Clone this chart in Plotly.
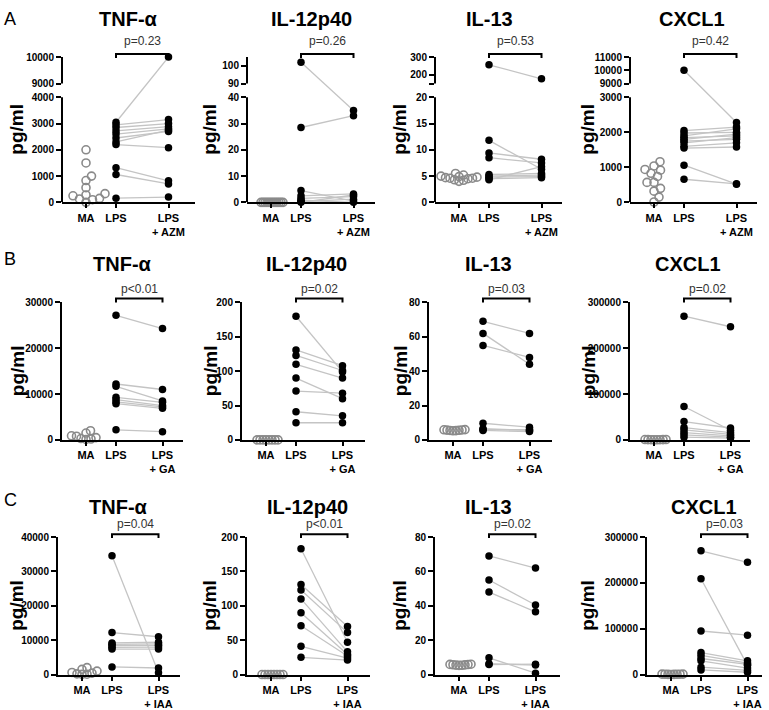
import plotly.graph_objects as go

W, H = 769, 710
FONT = "Arial, Liberation Sans, Helvetica, sans-serif"

# ---------------- data ----------------
row_letters = ["A", "B", "C"]
cytokines = ["TNF-α", "IL-12p40", "IL-13", "CXCL1"]
drug_labels = ["LPS<br>+ AZM", "LPS<br>+ GA", "LPS<br>+ IAA"]
p_values = [["p=0.23", "p=0.26", "p=0.53", "p=0.42"],
            ["p<0.01", "p=0.02", "p=0.03", "p=0.02"],
            ["p=0.04", "p<0.01", "p=0.02", "p=0.03"]]

# Row A (AZM)
a_tnf_ma = [2000, 1500, 1000, 830, 560, 330, 280, 250, 150, 130, 100, 0]
a_tnf_lps = [3050, 2950, 2850, 2720, 2600, 2450, 2300, 2200, 1320, 1060, 160]
a_tnf_drug = [10000, 3150, 3000, 2880, 2800, 2700, 2750, 2080, 820, 700, 200]
a_il12_ma = [0, 0, 0, 0, 0, 0, 0, 0, 0, 0, 0, 0]
a_il12_lps = [102, 28.5, 4.5, 2.5, 1.5, 0.8, 0.3, 0]
a_il12_drug = [35, 33, 0.5, 3.2, 2.2, 0, 1.2, 2.8]
a_il13_ma = [4.6, 4.7, 5.0, 4.8, 4.5, 4.2, 4.0, 4.3, 4.6, 5.2, 5.5, 4.9]
a_il13_lps = [256, 11.8, 9.4, 8.5, 5.3, 5.0, 4.8, 4.5, 4.3]
a_il13_drug = [177, 6.3, 8.2, 7.5, 5.5, 5.2, 4.9, 4.7, 6.8]
a_cxcl1_ma = [1160, 1040, 940, 920, 830, 740, 570, 570, 400, 320, 150, 10]
a_cxcl1_lps = [10000, 2050, 1980, 1900, 1850, 1800, 1750, 1700, 1600, 1550, 1060, 660]
a_cxcl1_drug = [2280, 2150, 2000, 2100, 1900, 1950, 1800, 1850, 1700, 1580, 520, 530]

# Row B (GA)
b_tnf_ma = [2000, 1500, 900, 800, 500, 300, 200, 100]
b_tnf_lps = [27200, 12200, 11700, 9300, 8800, 8300, 7900, 2200]
b_tnf_drug = [24300, 11000, 8500, 8200, 7500, 7200, 6900, 1800]
b_il12_ma = [0, 0, 0, 0, 0, 0, 0, 0]
b_il12_lps = [180, 131, 123, 110, 90, 71, 41, 25]
b_il12_drug = [99, 108, 101, 90, 60, 68, 35, 25]
b_il13_ma = [5.5, 5.8, 6.0, 5.6, 5.3, 5.9, 5.7, 5.4]
b_il13_lps = [69, 62, 55, 9.7, 6.5, 6.0, 5.5]
b_il13_drug = [62, 44, 48, 7.4, 5.5, 6.0, 4.9]
b_cxcl1_ma = [500, 800, 300, 600, 400, 700, 200, 900]
b_cxcl1_lps = [270000, 73000, 40000, 27000, 22000, 16000, 11000, 6000]
b_cxcl1_drug = [247000, 21000, 26000, 16000, 12000, 9000, 6000, 4000]

# Row C (IAA)
c_tnf_ma = [2000, 1500, 1000, 600, 400, 200, 100, 50]
c_tnf_lps = [34600, 12200, 9200, 8800, 8400, 7900, 7400, 2200]
c_tnf_drug = [500, 11000, 9400, 8900, 8500, 8000, 7400, 1900]
c_il12_ma = [0, 0, 0, 0, 0, 0, 0, 0]
c_il12_lps = [183, 131, 123, 110, 90, 71, 41, 25]
c_il12_drug = [47, 70, 61, 33, 29, 27, 24, 21]
c_il13_ma = [5.5, 5.8, 6.0, 5.6, 5.3, 5.9, 5.7, 5.4]
c_il13_lps = [69, 55, 48, 9.7, 6.3, 5.8]
c_il13_drug = [62, 40.5, 36.5, 0.8, 5.5, 6.0]
c_cxcl1_ma = [500, 800, 300, 600, 400, 700, 200, 900]
c_cxcl1_lps = [270000, 209000, 95000, 48000, 42000, 35000, 30000, 16000, 10000]
c_cxcl1_drug = [245000, 20000, 86000, 30000, 25000, 22000, 14000, 9000, 5000]

# y tick values
a_breaks = [  # (low max, upper min, upper max, low ticks, upper ticks, upper tick labels)
    (4000, 9000, 10000, [0, 1000, 2000, 3000, 4000], [9000, 10000], ["9000", "10000"]),
    (40, 90, 105, [0, 10, 20, 30, 40], [90, 100], ["90", "100"]),
    (20, 150, 300, [0, 5, 10, 15, 20], [150, 200, 300], ["", "200", "300"]),
    (3000, 9000, 11000, [0, 1000, 2000, 3000], [9000, 10000, 11000], ["9000", "10000", "11000"]),
]
bc_ticks = [
    [[0, 10000, 20000, 30000], [0, 50, 100, 150, 200], [0, 20, 40, 60, 80], [0, 100000, 200000, 300000]],
    [[0, 10000, 20000, 30000, 40000], [0, 50, 100, 150, 200], [0, 20, 40, 60, 80], [0, 100000, 200000, 300000]],
]

data = [
    [(a_tnf_ma, a_tnf_lps, a_tnf_drug), (a_il12_ma, a_il12_lps, a_il12_drug),
     (a_il13_ma, a_il13_lps, a_il13_drug), (a_cxcl1_ma, a_cxcl1_lps, a_cxcl1_drug)],
    [(b_tnf_ma, b_tnf_lps, b_tnf_drug), (b_il12_ma, b_il12_lps, b_il12_drug),
     (b_il13_ma, b_il13_lps, b_il13_drug), (b_cxcl1_ma, b_cxcl1_lps, b_cxcl1_drug)],
    [(c_tnf_ma, c_tnf_lps, c_tnf_drug), (c_il12_ma, c_il12_lps, c_il12_drug),
     (c_il13_ma, c_il13_lps, c_il13_drug), (c_cxcl1_ma, c_cxcl1_lps, c_cxcl1_drug)],
]

# ---------------- layout geometry (pixels) ----------------
boxes = [  # (x left, x right) per panel
    [(62, 195), (247, 375), (435, 562), (630, 757)],
    [(62, 183), (242, 365), (429, 552), (630, 750)],
    [(58, 180), (247, 370), (435, 560), (647, 762)],
]
row_y = [(52, 200), (302, 442), (541, 681)]  # (top, bottom)
title_y = [13, 263, 510]
letter_y = [13, 258, 503]
p_y = [36, 288, 528]
bracket_y = [49, 298, 538]
ylab_x = [17, 210, 400, 588]
title_x = [
    [128, 311, 489, 692],
    [122, 306, 488, 688],
    [118, 307, 488, 704],
]
swarm_d = [[7, 1.8, 4.5, 7], [5, 2.8, 2.8, 2.8], [5, 2.8, 2.8, 2.8]]
drug_pos = [3.75, 3.55, 3.55]
K = 30.0  # px per x unit
X0 = 0.2
L_, G_, U_ = 107.0, 14.0, 27.0

GRAY_LINE = "#c4c4c4"
MA_COLOR = "#8a8a8a"


def swarm(ypx, dmin):
    order = sorted(range(len(ypx)), key=lambda i: ypx[i])
    placed = []
    off = [0.0] * len(ypx)
    for i in order:
        j = 0
        chosen = None
        while chosen is None:
            cands = [0.0] if j == 0 else [j * 0.5, -j * 0.5]
            for c in cands:
                if all((c - px) ** 2 + (ypx[i] - py) ** 2 >= dmin ** 2 for px, py in placed):
                    chosen = c
                    break
            j += 1
        placed.append((chosen, ypx[i]))
        off[i] = chosen
    return off


fig = go.Figure()
layout = {}
shapes = []
annotations = []

n = 0
for r in range(3):
    yt, yb = row_y[r]
    for c in range(4):
        n += 1
        xid = "x" if n == 1 else f"x{n}"
        yid = "y" if n == 1 else f"y{n}"
        xl, xr = boxes[r][c]
        ma, lps, drug = data[r][c]
        dpos = drug_pos[r]

        if r == 0:
            lowmax, upmin, upmax, lt, ut, utl = a_breaks[c]

            def disp(v, lowmax=lowmax, upmin=upmin, upmax=upmax):
                if v <= lowmax:
                    return v / lowmax * L_
                return L_ + G_ + (v - upmin) / (upmax - upmin) * U_

            yrange = [0, L_ + G_ + U_]
            tickvals = [disp(v) for v in lt] + [disp(v) for v in ut]
            ticktext = [str(v) for v in lt] + utl
        else:
            def disp(v):
                return v
            tv = bc_ticks[r - 1][c]
            yrange = [0, tv[-1]]
            tickvals = tv
            ticktext = [str(v) for v in tv]

        span = yrange[1] - yrange[0]
        pxper = (yb - yt) / span

        # MA scatter (swarm)
        ma_y = [disp(v) for v in ma]
        offs = swarm([v * pxper for v in ma_y], swarm_d[r][c])
        fig.add_trace(go.Scatter(
            x=[1 + o / K for o in offs], y=ma_y, mode="markers",
            marker=dict(symbol="circle-open", size=8, color=MA_COLOR, line=dict(width=1.6, color=MA_COLOR)),
            xaxis=xid, yaxis=yid, cliponaxis=False, showlegend=False, hoverinfo="skip"))

        # paired lines
        lx, ly = [], []
        for a, b in zip(lps, drug):
            lx += [2, dpos, None]
            ly += [disp(a), disp(b), None]
        fig.add_trace(go.Scatter(
            x=lx, y=ly, mode="lines", line=dict(color=GRAY_LINE, width=1.3),
            xaxis=xid, yaxis=yid, cliponaxis=False, showlegend=False, hoverinfo="skip"))

        # points
        px_ = [2] * len(lps) + [dpos] * len(drug)
        py_ = [disp(v) for v in lps] + [disp(v) for v in drug]
        fig.add_trace(go.Scatter(
            x=px_, y=py_, mode="markers", marker=dict(size=7.5, color="black"),
            xaxis=xid, yaxis=yid, cliponaxis=False, showlegend=False))

        xdom = [xl / W, xr / W]
        ydom = [1 - yb / H, 1 - yt / H]
        layout["xaxis" if n == 1 else f"xaxis{n}"] = dict(
            domain=xdom, anchor=yid, range=[X0, X0 + (xr - xl) / K],
            showline=True, linewidth=2, linecolor="black", showgrid=False, zeroline=False,
            ticks="outside", ticklen=4, tickwidth=1.5, tickcolor="black",
            tickvals=[1, 2, dpos], ticktext=["MA", "LPS", drug_labels[r]],
            tickfont=dict(family=FONT, size=11, color="black", weight="bold"),
        )
        layout["yaxis" if n == 1 else f"yaxis{n}"] = dict(
            domain=ydom, anchor=xid, range=yrange,
            showline=(r != 0), linewidth=2, linecolor="black", showgrid=False, zeroline=False,
            ticks="outside", ticklen=5, tickwidth=1.5, tickcolor="black",
            tickvals=tickvals, ticktext=ticktext,
            tickfont=dict(family=FONT, size=10, color="black", weight="bold"),
        )
        if r == 0:
            for y0, y1 in [(0, L_), (L_ + G_, L_ + G_ + U_)]:
                shapes.append(dict(type="line", xref=f"{xid} domain", yref=yid,
                                   x0=0, x1=0, y0=y0, y1=y1,
                                   line=dict(color="black", width=2)))

        # bracket
        by = 1 - bracket_y[r] / H
        tip = 4 / H
        shapes.append(dict(type="path", xref=xid, yref="paper",
                           path=f"M 2,{by - tip} L 2,{by} L {dpos},{by} L {dpos},{by - tip}",
                           line=dict(color="black", width=2)))
        annotations.append(dict(xref=xid, yref="paper", x=(2 + dpos) / 2, y=1 - p_y[r] / H,
                                text=p_values[r][c], showarrow=False, yanchor="middle",
                                font=dict(family=FONT, size=12, color="#333333")))
        # title
        annotations.append(dict(xref="paper", yref="paper", x=title_x[r][c] / W, y=1 - title_y[r] / H,
                                text=cytokines[c], showarrow=False, xanchor="center", yanchor="middle",
                                font=dict(family=FONT, size=20, color="black", weight="bold")))
        # y label
        annotations.append(dict(xref="paper", yref="paper", x=ylab_x[c] / W, y=1 - (yt + yb) / 2 / H,
                                text="pg/ml", textangle=-90, showarrow=False,
                                xanchor="center", yanchor="middle",
                                font=dict(family=FONT, size=19, color="black", weight="bold")))
    annotations.append(dict(xref="paper", yref="paper", x=2 / W, y=1 - letter_y[r] / H,
                            text=row_letters[r], showarrow=False, xanchor="left", yanchor="middle",
                            font=dict(family=FONT, size=18, color="black")))

fig.update_layout(
    width=W, height=H, margin=dict(l=0, r=0, t=0, b=0),
    paper_bgcolor="white", plot_bgcolor="white",
    showlegend=False, shapes=shapes, annotations=annotations,
    font=dict(family=FONT, color="black"),
    **layout,
)
fig.write_html(
    "out.html",
    config={"displayModeBar": False},
    post_script="document.body.style.margin='0';document.body.style.overflow='hidden';",
)
